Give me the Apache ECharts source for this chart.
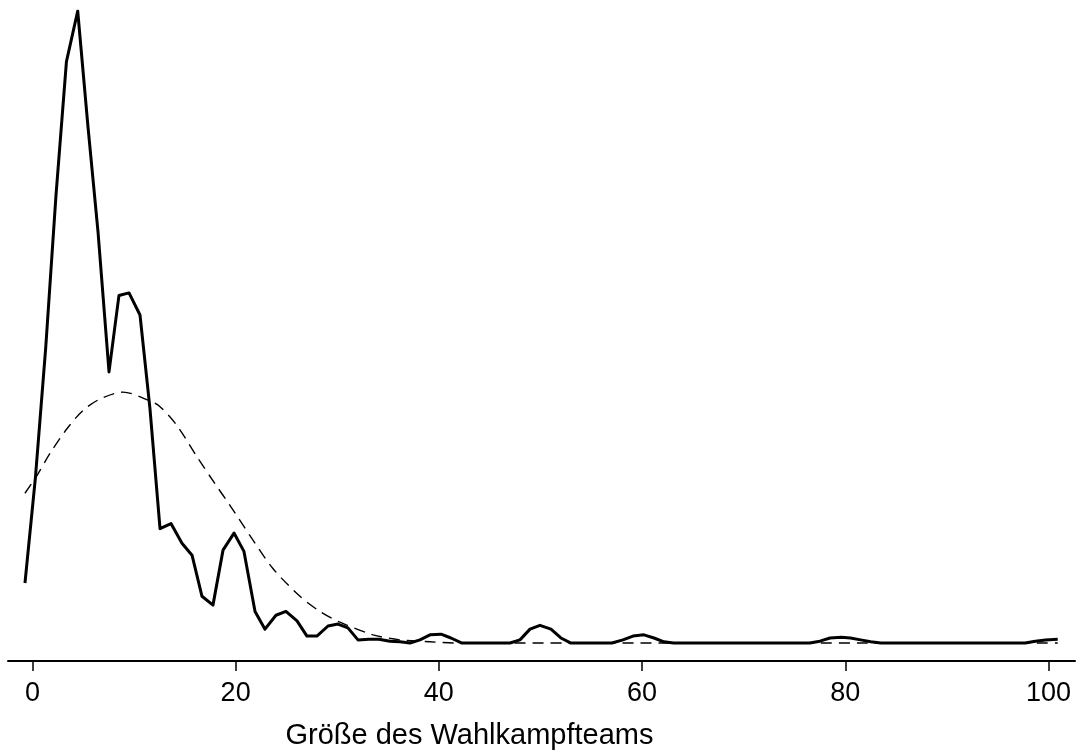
<!DOCTYPE html>
<html>
<head>
<meta charset="utf-8">
<script src="https://cdn.jsdelivr.net/npm/echarts@6/dist/echarts.min.js"></script>
<style>
html,body{margin:0;padding:0;background:#fff;}
#chart{width:1083px;height:755px;}
</style>
</head>
<body>
<div id="chart"></div>
<script>
// Kernel density (solid) – x values and density values
const kdeX = [-0.73,0.30,1.31,2.32,3.35,4.46,5.47,6.46,7.54,8.52,9.51,10.59,11.57,12.56,13.64,14.72,15.71,16.69,17.77,18.76,19.84,20.82,21.91,22.89,23.97,24.95,26.04,27.02,28.00,29.09,30.07,31.05,32.04,33.12,34.10,35.19,36.17,37.16,38.14,39.13,40.21,41.19,42.27,47.0,47.98,48.97,49.95,51.03,52.01,53.0,57.03,58.12,59.1,60.18,61.17,62.15,63.1,76.5,77.5,78.5,79.6,80.5,81.5,82.5,83.5,97.7,98.7,99.7,100.9];
const kdeY = [0.0095,0.0262,0.0467,0.0708,0.0920,0.1000,0.0817,0.0650,0.0429,0.0550,0.0554,0.0519,0.0371,0.0181,0.0189,0.0158,0.0139,0.0074,0.0060,0.0147,0.0174,0.0145,0.0050,0.0022,0.0044,0.0050,0.0035,0.0011,0.0011,0.0027,0.0030,0.0024,0.0005,0.0006,0.0006,0.0003,0.0002,0,0.0005,0.0013,0.0014,0.0008,0,0,0.0005,0.0022,0.0028,0.0022,0.0008,0,0,0.0005,0.0011,0.0013,0.0008,0.0002,0,0,0.0003,0.0008,0.0009,0.0008,0.0005,0.0002,0,0,0.0003,0.0005,0.0006];
// Normal density (dashed)
const normX = [-0.73,0.45,1.73,3.40,4.98,6.65,8.92,11.57,12.56,14.23,16.19,17.97,19.44,21.41,23.67,26.33,28.30,30.27,33.52,36.17,39.1,42.1,100.9];
const normY = [0.0237,0.0265,0.0300,0.0339,0.0368,0.0386,0.0397,0.0383,0.0374,0.0344,0.0295,0.0252,0.0218,0.0170,0.0118,0.0074,0.0050,0.0033,0.0013,0.0005,0.0002,0,0];
const xTicks = [0,20,40,60,80,100];
const xTitle = 'Größe des Wahlkampfteams';

const chart = echarts.init(document.getElementById('chart'), null, {renderer:'canvas'});
const font = '"Liberation Sans", Arial, sans-serif';
chart.setOption({
  animation:false,
  backgroundColor:'#fff',
  grid:{left:8,right:8,top:11,bottom:92,containLabel:false},
  xAxis:{
    type:'value', min:-2.4, max:102.6,
    name:xTitle, nameLocation:'middle', nameGap:60,
    nameTextStyle:{fontFamily:font,fontSize:29,color:'#000',padding:[0,144,0,0]},
    axisLine:{show:true,onZero:false,lineStyle:{color:'#000',width:2}},
    axisTick:{show:true,length:10,inside:false,customValues:xTicks,lineStyle:{color:'#000',width:1.5}},
    axisLabel:{show:true,customValues:xTicks,margin:19,fontFamily:font,fontSize:27,color:'#000'},
    splitLine:{show:false}
  },
  yAxis:{
    type:'value', min:-0.00284, max:0.1,
    show:false, splitLine:{show:false}
  },
  series:[
    {type:'line', data:normX.map((x,i)=>[x,normY[i]]), showSymbol:false, smooth:0.3,
     lineStyle:{color:'#000',width:1.4,type:[11,7]}},
    {type:'line', data:kdeX.map((x,i)=>[x,kdeY[i]]), showSymbol:false, smooth:false,
     lineStyle:{color:'#000',width:3,join:'round'}}
  ]
});
</script>
</body>
</html>
